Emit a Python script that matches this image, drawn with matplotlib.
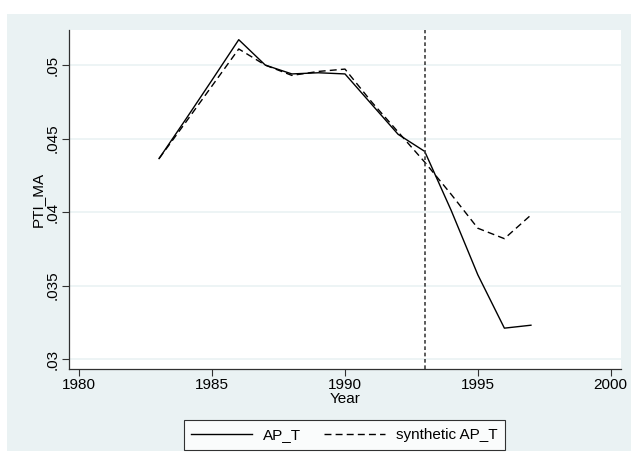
import matplotlib
matplotlib.use("Agg")
import matplotlib.pyplot as plt

# data
years = [1983, 1984, 1985, 1986, 1987, 1988, 1989, 1990, 1991, 1992, 1993, 1994, 1995, 1996, 1997]
ap_t = [0.04364, 0.0463, 0.0490, 0.05173, 0.0500, 0.0494, 0.04948, 0.0494, 0.04734, 0.04529,
        0.04413, 0.0401, 0.03573, 0.0321, 0.0323]
synth_ap_t = [0.04364, 0.0461, 0.0486, 0.0511, 0.0500, 0.0493, 0.04957, 0.04973, 0.0475, 0.04545,
              0.0434, 0.0412, 0.0389, 0.03819, 0.0398]
treat_year = 1993
x_ticks = [1980, 1985, 1990, 1995, 2000]
y_ticks = [0.03, 0.035, 0.04, 0.045, 0.05]
y_labels = [".03", ".035", ".04", ".045", ".05"]

plt.rcParams["font.family"] = ["Liberation Sans", "DejaVu Sans"]

W, H = 631, 461
fig = plt.figure(figsize=(W / 100, H / 100), dpi=100)
fig.patch.set_facecolor("white")

# Stata-like graph region (light blue-grey), drawn behind the axes
bg = plt.Rectangle((7 / W, 10 / H), 1 - 7 / W, 1 - 24 / H, transform=fig.transFigure,
                   facecolor="#EAF2F3", edgecolor="none", zorder=-10)
fig.add_artist(bg)

ax = fig.add_axes([69 / W, 1 - 369 / H, (621 - 69) / W, (369 - 30) / H])
ax.set_zorder(1)
ax.set_facecolor("white")

ax.plot(years, ap_t, color="black", lw=1.0, label="AP_T")
ax.plot(years, synth_ap_t, color="black", lw=1.0, dashes=(5, 3), label="synthetic AP_T")
ax.axvline(treat_year, color="#404040", lw=1.2, dashes=(2.2, 1.6))

ax.set_xlim(1979.61, 2000.39)
ax.set_ylim(0.02932, 0.05239)
ax.set_xticks(x_ticks)
ax.set_yticks(y_ticks)
ax.set_yticklabels(y_labels, rotation=90, va="center")
ax.tick_params(axis="both", labelsize=11, color="#303030", length=5, width=0.8)
ax.tick_params(axis="x", pad=1.5)
ax.tick_params(axis="y", pad=1.5)
ax.grid(axis="y", color="#EAF2F3", lw=1.2)
ax.set_axisbelow(True)

for side in ("top", "right"):
    ax.spines[side].set_visible(False)
for side in ("left", "bottom"):
    ax.spines[side].set_color("#303030")
    ax.spines[side].set_linewidth(0.9)

ax.set_xlabel("Year", fontsize=11, labelpad=0)
ax.set_ylabel("PTI_MA", fontsize=11, labelpad=1)

leg = ax.legend(loc="center", bbox_to_anchor=((183 + 506) / 2 / W, 1 - 435 / H),
                bbox_transform=fig.transFigure, ncol=2, fontsize=11, frameon=True,
                fancybox=False, handlelength=4.0, columnspacing=1.5, handletextpad=0.7,
                borderpad=0.5)
leg.get_frame().set_edgecolor("black")
leg.get_frame().set_linewidth(0.8)

fig.savefig("out.png", dpi=100)
